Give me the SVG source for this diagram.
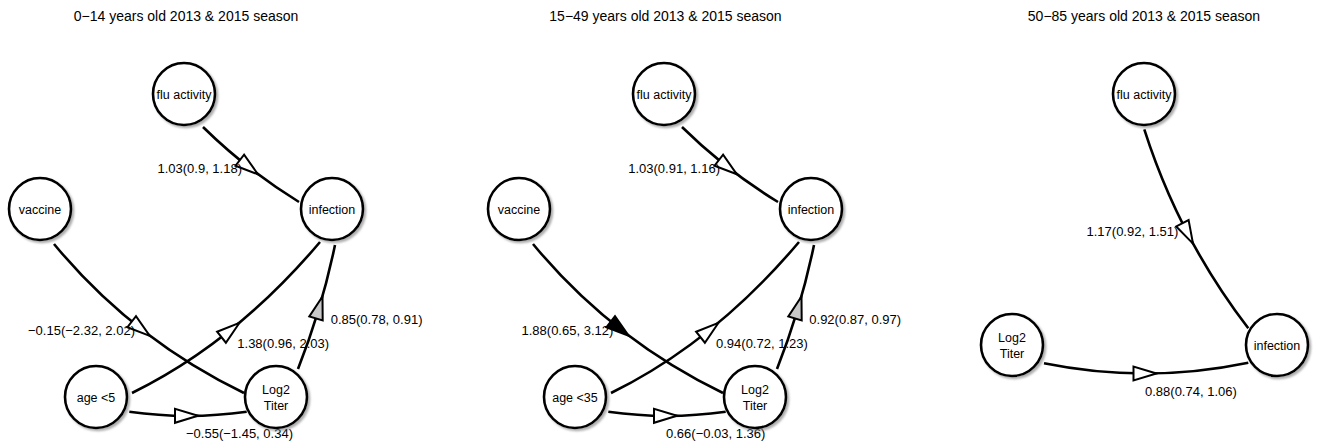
<svg xmlns="http://www.w3.org/2000/svg" width="1319" height="447" viewBox="0 0 1319 447">
<style>
text{font-family:"Liberation Sans",Arial,sans-serif;fill:#000}
.title{font-size:14px;text-anchor:middle}
.nl{font-size:12.5px;text-anchor:middle}
.el{font-size:13px}
.end{text-anchor:end}
.node circle{fill:#fff;stroke:#000;stroke-width:2.6;filter:url(#sh)}
.edge{fill:none;stroke:#000;stroke-width:2.6}
.ah{fill:#fff;stroke:#000;stroke-width:2;stroke-linejoin:miter}
.ah.g{fill:#c8c8c8}
.ah.b{fill:#000}
</style>
<defs>
<filter id="sh" x="-20%" y="-20%" width="150%" height="150%">
<feDropShadow dx="2" dy="2" stdDeviation="1.2" flood-color="#777" flood-opacity="0.6"/>
</filter>
</defs>
<rect width="1319" height="447" fill="#fff"/>
<g id="titles">
<text class="title" x="186" y="21">0−14 years old 2013 &amp; 2015 season</text>
<text class="title" x="665.5" y="21">15−49 years old 2013 &amp; 2015 season</text>
<text class="title" x="1144" y="21">50−85 years old 2013 &amp; 2015 season</text>
</g>
<g id="connectors">
<!-- panel 1 -->
<path class="edge" d="M203,127 Q246.7,170 299,202"/>
<polygon class="ah" points="257.9,174.3 235.5,165.7 244.1,154.7"/>
<path class="edge" d="M54,244 Q132.5,339 244,393"/>
<polygon class="ah" points="149.8,335.9 127.4,327.2 136,316.1"/>
<path class="edge" d="M132,393 Q235,342.5 320,242"/>
<polygon class="ah" points="239.5,322.8 225.9,342.7 217.1,331.7"/>
<path class="edge" d="M298,369 Q322,308 335,245"/>
<polygon class="ah g" points="322.5,296.5 322.7,320.5 309.3,316.5"/>
<path class="edge" d="M129.3,411.7 Q188,420 246.7,411.7"/>
<polygon class="ah" points="198,415.8 175,408.8 175,422.8"/>
<!-- panel 2 -->
<path class="edge" d="M682,127 Q725.7,170 778,202"/>
<polygon class="ah" points="736.9,174.3 714.5,165.7 723.1,154.7"/>
<path class="edge" d="M533,244 Q611.5,339 723,393"/>
<polygon class="ah b" points="628.8,335.9 606.4,327.2 615,316.1"/>
<path class="edge" d="M611,393 Q714,342.5 799,242"/>
<polygon class="ah" points="718.5,322.8 704.9,342.7 696.1,331.7"/>
<path class="edge" d="M777,369 Q801,308 814,245"/>
<polygon class="ah g" points="801.5,296.5 801.7,320.5 788.3,316.5"/>
<path class="edge" d="M608.3,411.7 Q667,420 725.7,411.7"/>
<polygon class="ah" points="677,415.8 654,408.8 654,422.8"/>
<!-- panel 3 -->
<path class="edge" d="M1144.3,129.3 Q1179,238 1248.3,328.3"/>
<polygon class="ah" points="1193,243.6 1176.2,226.4 1188.6,220"/>
<path class="edge" d="M1044,363.3 Q1146,384 1248.3,362.7"/>
<polygon class="ah" points="1156.5,373.5 1133.5,366.5 1133.5,380.5"/>
</g>
<g id="edge-labels">
<text class="el end" x="242" y="172.5">1.03(0.9, 1.18)</text>
<text class="el end" x="135" y="335">−0.15(−2.32, 2.02)</text>
<text class="el" x="237.3" y="348">1.38(0.96, 2.03)</text>
<text class="el" x="330.7" y="324">0.85(0.78, 0.91)</text>
<text class="el" x="186" y="438">−0.55(−1.45, 0.34)</text>
<text class="el end" x="720" y="172.5">1.03(0.91, 1.16)</text>
<text class="el end" x="613.3" y="335">1.88(0.65, 3.12)</text>
<text class="el" x="716" y="348">0.94(0.72, 1.23)</text>
<text class="el" x="809.3" y="324">0.92(0.87, 0.97)</text>
<text class="el" x="666" y="438">0.66(−0.03, 1.36)</text>
<text class="el end" x="1178.3" y="236">1.17(0.92, 1.51)</text>
<text class="el" x="1145" y="396">0.88(0.74, 1.06)</text>
</g>
<g id="p1-flu" class="node"><circle cx="184" cy="94" r="31"/><text class="nl" x="184" y="98.5">flu activity</text></g>
<g id="p1-vaccine" class="node"><circle cx="40" cy="209" r="31"/><text class="nl" x="40" y="213.5">vaccine</text></g>
<g id="p1-infection" class="node"><circle cx="332" cy="209" r="31"/><text class="nl" x="332" y="213.5">infection</text></g>
<g id="p1-age" class="node"><circle cx="96" cy="397" r="31"/><text class="nl" x="96" y="401.5">age &lt;5</text></g>
<g id="p1-titer" class="node"><circle cx="276" cy="397" r="31"/><text class="nl" x="276" y="394">Log2</text><text class="nl" x="276" y="409.5">Titer</text></g>
<g id="p2-flu" class="node"><circle cx="664" cy="94" r="31"/><text class="nl" x="664" y="98.5">flu activity</text></g>
<g id="p2-vaccine" class="node"><circle cx="519" cy="209" r="31"/><text class="nl" x="519" y="213.5">vaccine</text></g>
<g id="p2-infection" class="node"><circle cx="811" cy="209" r="31"/><text class="nl" x="811" y="213.5">infection</text></g>
<g id="p2-age" class="node"><circle cx="575" cy="397" r="31"/><text class="nl" x="575" y="401.5">age &lt;35</text></g>
<g id="p2-titer" class="node"><circle cx="755" cy="397" r="31"/><text class="nl" x="755" y="394">Log2</text><text class="nl" x="755" y="409.5">Titer</text></g>
<g id="p3-flu" class="node"><circle cx="1144" cy="94" r="31"/><text class="nl" x="1144" y="98.5">flu activity</text></g>
<g id="p3-titer" class="node"><circle cx="1012" cy="345" r="31"/><text class="nl" x="1012" y="342">Log2</text><text class="nl" x="1012" y="357.5">Titer</text></g>
<g id="p3-infection" class="node"><circle cx="1277" cy="345" r="31"/><text class="nl" x="1277" y="349.5">infection</text></g>
</svg>
